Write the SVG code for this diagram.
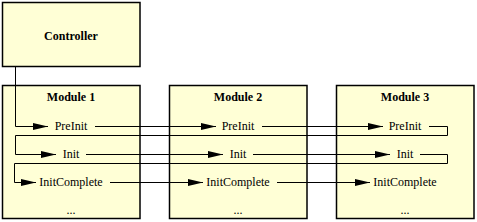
<svg xmlns="http://www.w3.org/2000/svg" width="477" height="222" viewBox="0 0 477 222">
<style>
.box{fill:#FFFFD6;stroke:#000;stroke-width:1.5}
.t{font-family:"Liberation Serif","Times New Roman",serif;font-size:12px;text-anchor:middle;fill:#000}
.b{font-weight:bold}
.c{fill:none;stroke:#000;stroke-width:1}
</style>
<defs>
<marker id="ah" markerUnits="userSpaceOnUse" markerWidth="15" markerHeight="8" refX="15" refY="4" orient="auto">
<path d="M0,0.5 L15,4 L0,7.5 z" fill="#000"/>
</marker>
</defs>
<g id="controller">
<rect class="box" x="2.5" y="2.5" width="137.5" height="64"/>
<text class="t b" x="71" y="40">Controller</text>
</g>
<g id="module1">
<rect class="box" x="2.5" y="85.5" width="137.5" height="133"/>
<text class="t b" x="71" y="101">Module 1</text>
<text class="t" x="71" y="130">PreInit</text>
<text class="t" x="71" y="158">Init</text>
<text class="t" x="71" y="186">InitComplete</text>
<text class="t" x="71" y="214">...</text>
</g>
<g id="module2">
<rect class="box" x="169.5" y="85.5" width="137.5" height="133"/>
<text class="t b" x="238" y="101">Module 2</text>
<text class="t" x="238" y="130">PreInit</text>
<text class="t" x="238" y="158">Init</text>
<text class="t" x="238" y="186">InitComplete</text>
<text class="t" x="238" y="214">...</text>
</g>
<g id="module3">
<rect class="box" x="336.5" y="85.5" width="137.5" height="133"/>
<text class="t b" x="405" y="101">Module 3</text>
<text class="t" x="405" y="130">PreInit</text>
<text class="t" x="405" y="158">Init</text>
<text class="t" x="405" y="186">InitComplete</text>
<text class="t" x="405" y="214">...</text>
</g>
<g id="connectors">
<path class="c" d="M15.5,67 V126.5 H48" marker-end="url(#ah)"/>
<path class="c" d="M95,126.5 H216" marker-end="url(#ah)"/>
<path class="c" d="M262,126.5 H383" marker-end="url(#ah)"/>
<path class="c" d="M429,126.5 H447.5 V135.5 H15.5 V154.5 H56" marker-end="url(#ah)"/>
<path class="c" d="M86,154.5 H223" marker-end="url(#ah)"/>
<path class="c" d="M253,154.5 H390" marker-end="url(#ah)"/>
<path class="c" d="M420,154.5 H447.5 V163.5 H14.5 V182.5 H36" marker-end="url(#ah)"/>
<path class="c" d="M110,182.5 H203" marker-end="url(#ah)"/>
<path class="c" d="M277,182.5 H370" marker-end="url(#ah)"/>
</g>
</svg>
